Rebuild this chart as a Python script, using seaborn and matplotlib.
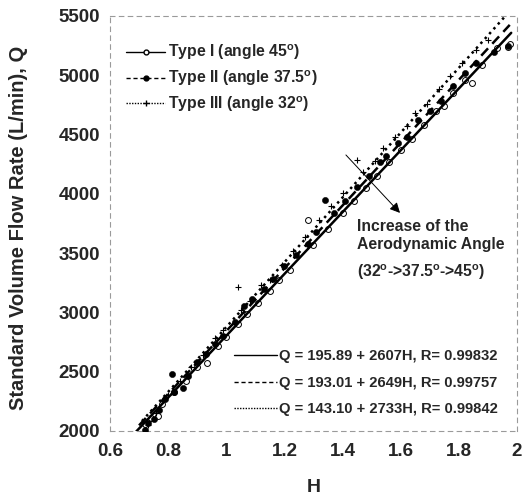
import numpy as np
import pandas as pd
import seaborn as sns
import matplotlib
matplotlib.use("Agg")
import matplotlib.pyplot as plt
from matplotlib.lines import Line2D

# ---- data ----
h_type1 = [0.72, 0.74, 0.765, 0.78, 0.82, 0.86, 0.90, 0.934, 0.97, 1.00, 1.04, 1.07, 1.11, 1.15,
           1.18, 1.22, 1.281, 1.30, 1.35, 1.40, 1.44, 1.48, 1.52, 1.56, 1.60, 1.64, 1.68, 1.72,
           1.75, 1.78, 1.82, 1.845, 1.88, 1.93, 1.969, 1.975]
q_type1 = [2060, 2110, 2127, 2230, 2330, 2420, 2540, 2573, 2720, 2790, 2900, 2990, 3080, 3180,
           3270, 3360, 3780, 3570, 3700, 3840, 3940, 4050, 4150, 4270, 4370, 4460, 4580, 4700,
           4740, 4850, 4960, 4935, 5090, 5230, 5239, 5260]

h_type2 = [0.72, 0.73, 0.75, 0.77, 0.79, 0.813, 0.82, 0.85, 0.87, 0.90, 0.93, 0.96, 0.99, 1.03,
           1.06, 1.09, 1.13, 1.16, 1.20, 1.24, 1.28, 1.31, 1.34, 1.37, 1.41, 1.45, 1.49, 1.53,
           1.55, 1.59, 1.62, 1.66, 1.70, 1.74, 1.78, 1.82, 1.86, 1.92, 1.97]
q_type2 = [2010, 2070, 2100, 2180, 2270, 2481, 2330, 2363, 2460, 2580, 2650, 2730, 2800, 2920,
           3050, 3110, 3200, 3280, 3390, 3480, 3580, 3680, 3948, 3840, 3940, 4060, 4150, 4270,
           4320, 4430, 4480, 4620, 4700, 4780, 4910, 5020, 5100, 5200, 5250]

h_type3 = [0.73, 0.76, 0.80, 0.84, 0.88, 0.92, 0.96, 0.99, 1.04, 1.05, 1.08, 1.12, 1.15, 1.19,
           1.23, 1.27, 1.32, 1.36, 1.40, 1.45, 1.47, 1.51, 1.54, 1.58, 1.62, 1.65, 1.69, 1.73,
           1.77, 1.81, 1.86, 1.90]
q_type3 = [2050, 2150, 2300, 2420, 2540, 2640, 2780, 2850, 3214, 3020, 3100, 3230, 3270, 3400,
           3520, 3640, 3780, 3900, 4010, 4285, 4180, 4280, 4390, 4480, 4570, 4680, 4760, 4880,
           4990, 5100, 5210, 5300]

# fitted equations shown on the chart
fit_names = ["Type I", "Type II", "Type III"]
fit_a = [195.89, 193.01, 143.10]
fit_b = [2607, 2649, 2733]
fit_r = [0.99832, 0.99757, 0.99842]
fit_hmin = [0.69, 0.70, 0.71]
fit_hmax = [1.98, 1.975, 1.96]

legend_labels = ["Type I (angle 45$^{\\mathregular{o}}$)",
                 "Type II (angle 37.5$^{\\mathregular{o}}$)",
                 "Type III (angle 32$^{\\mathregular{o}}$)"]

x_ticks = [0.6, 0.8, 1.0, 1.2, 1.4, 1.6, 1.8, 2.0]
x_ticklabels = ["0.6", "0.8", "1", "1.2", "1.4", "1.6", "1.8", "2"]
y_ticks = [2000, 2500, 3000, 3500, 4000, 4500, 5000, 5500]

# ---- style ----
sns.set_theme(style="white")
plt.rcParams['font.family'] = ['Liberation Sans', 'DejaVu Sans']
plt.rcParams['font.weight'] = 'bold'
plt.rcParams['mathtext.default'] = 'bf'

fig = plt.figure(figsize=(5.30, 4.99), dpi=100)
ax = fig.add_axes([0.2075, 0.1363, 0.768, 0.8317])

pts = pd.concat([
    pd.DataFrame({"H": h_type1, "Q": q_type1, "type": "Type I"}),
    pd.DataFrame({"H": h_type2, "Q": q_type2, "type": "Type II"}),
    pd.DataFrame({"H": h_type3, "Q": q_type3, "type": "Type III"}),
])

sns.scatterplot(data=pts[pts.type == "Type I"], x="H", y="Q", ax=ax, marker="o",
                facecolor="white", edgecolor="black", linewidth=0.7, s=18, legend=False, zorder=3)
sns.scatterplot(data=pts[pts.type == "Type II"], x="H", y="Q", ax=ax, marker="o",
                color="black", edgecolor="black", s=20, legend=False, zorder=3)
sns.scatterplot(data=pts[pts.type == "Type III"], x="H", y="Q", ax=ax, marker="+",
                color="black", linewidth=0.8, s=20, legend=False, zorder=3)

styles = ["-", (0, (4, 2.5)), (0, (1.0, 1.6))]
for name, a, b, h0, h1, ls in zip(fit_names, fit_a, fit_b, fit_hmin, fit_hmax, styles):
    hh = np.array([h0, h1])
    df = pd.DataFrame({"H": hh, "Q": a + b * hh})
    sns.lineplot(data=df, x="H", y="Q", ax=ax, color="black", linewidth=1.8,
                 linestyle=ls, legend=False, zorder=4)

ax.set_xlim(0.6, 2.0)
ax.set_ylim(2000, 5500)
ax.set_xticks(x_ticks)
ax.set_xticklabels(x_ticklabels)
ax.set_yticks(y_ticks)
for lab in ax.get_xticklabels() + ax.get_yticklabels():
    lab.set_fontweight("bold")
    lab.set_fontsize(13.5)
ax.tick_params(axis="y", length=0, pad=7)
ax.tick_params(axis="x", length=0, pad=9)
ax.set_xlabel("H", fontsize=14, fontweight="bold")
ax.set_ylabel("Standard Volume Flow Rate (L/min), Q", fontsize=14.5, fontweight="bold")
ax.xaxis.set_label_coords(0.5, -0.115)
ax.yaxis.set_label_coords(-0.2015, 0.49)

for sp in ax.spines.values():
    sp.set_visible(True)
    sp.set_color("#9a9a9a")
    sp.set_linewidth(0.8)
    sp.set_linestyle((0, (4, 4)))

# legend of types
h1 = [Line2D([0], [0], color="black", lw=1.0, ls="-", marker="o", mfc="white", mec="black", ms=3.5),
      Line2D([0], [0], color="black", lw=1.0, ls=(0, (3, 2)), marker="o", mfc="black", mec="black", ms=3.5),
      Line2D([0], [0], color="black", lw=1.0, ls=(0, (1, 1)), marker="+", mec="black", ms=4)]
leg1 = ax.legend(h1, legend_labels, loc="upper left", bbox_to_anchor=(0.005, 0.97), frameon=False,
                 handlelength=2.5, handletextpad=0.15, labelspacing=0.4, numpoints=1,
                 prop={"weight": "bold", "size": 11.3})
ax.add_artist(leg1)

# legend of fitted equations
h2 = [Line2D([0], [0], color="black", lw=1.0, ls="-"),
      Line2D([0], [0], color="black", lw=1.0, ls=(0, (3, 2))),
      Line2D([0], [0], color="black", lw=1.0, ls=(0, (1, 1)))]
eq_labels = [f"Q = {a:.2f} + {b}H, R= {r:.5f}" for a, b, r in zip(fit_a, fit_b, fit_r)]
ax.legend(h2, eq_labels, loc="lower right", bbox_to_anchor=(0.985, 0.003), frameon=False,
          handlelength=2.9, handletextpad=0.15, labelspacing=0.85,
          prop={"weight": "bold", "size": 10.6})

# annotation arrow
ax.annotate("", xy=(1.604, 3822), xytext=(1.405, 4345),
            arrowprops=dict(arrowstyle="-|>", color="black", lw=0.7, mutation_scale=15))
ax.text(1.45, 3650, "Increase of the\nAerodynamic Angle", fontsize=11.3, fontweight="bold",
        va="center", ha="left", linespacing=1.3)
ax.text(1.45, 3340, "(32$^{\\mathregular{o}}$->37.5$^{\\mathregular{o}}$->45$^{\\mathregular{o}}$)",
        fontsize=11.3, fontweight="bold", va="center", ha="left")

fig.savefig("out.png", dpi=100)
